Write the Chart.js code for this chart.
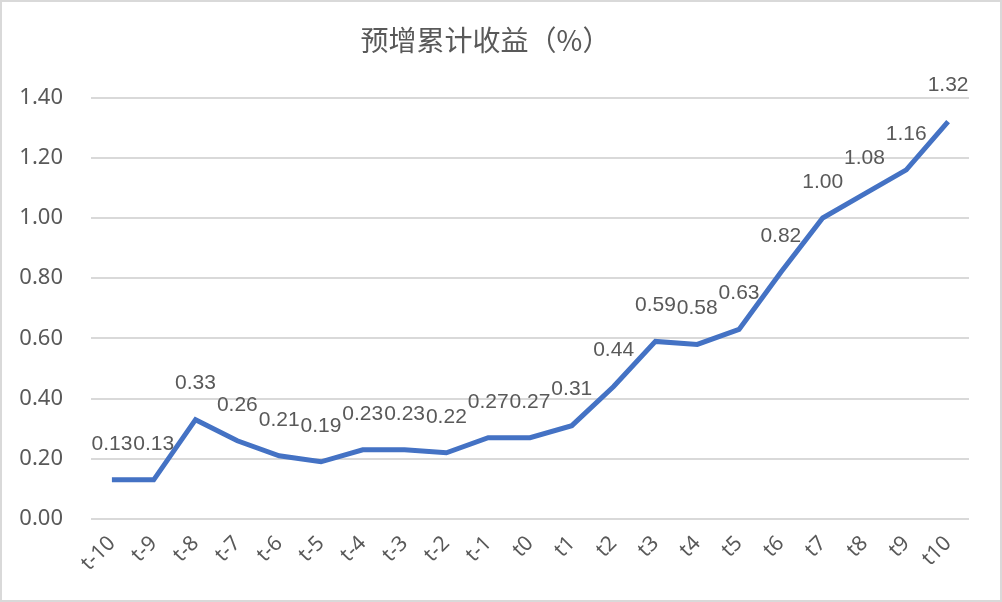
<!DOCTYPE html>
<html>
<head>
<meta charset="utf-8">
<script src="https://cdn.jsdelivr.net/npm/chart.js@4"></script>
<style>
  html, body { margin: 0; padding: 0; background: #fff; }
  #wrap { width: 1002px; height: 602px; position: relative; box-sizing: border-box; border: 2px solid #d9d9d9; }
</style>
</head>
<body>
<div id="wrap"><canvas id="chartShouyi"></canvas></div>
<script>
// categorias y valores
const periodos = ['t-10','t-9','t-8','t-7','t-6','t-5','t-4','t-3','t-2','t-1','t0','t1','t2','t3','t4','t5','t6','t7','t8','t9','t10'];
const shouyi = [0.13,0.13,0.33,0.26,0.21,0.19,0.23,0.23,0.22,0.27,0.27,0.31,0.44,0.59,0.58,0.63,0.82,1.00,1.08,1.16,1.32];
const titulo = '预增累计收益（%）';

// etiquetas sobre cada punto
const etiquetas = {
    id: 'etiquetas',
    afterDatasetsDraw(chart) {
        let ctx = chart.ctx;
        let meta = chart.getDatasetMeta(0);
        ctx.save();
        ctx.font = '21px "Liberation Sans", sans-serif';
        ctx.fillStyle = '#595959';
        ctx.textAlign = 'center';
        ctx.textBaseline = 'middle';
        meta.data.forEach((p, i) => {
            ctx.fillText(shouyi[i].toFixed(2), p.x, p.y - 36);
        });
        ctx.restore();
    }
};

let ctx = document.getElementById('chartShouyi').getContext('2d');
let chartShouyi = new Chart(ctx, {
    type: 'line',
    data: {
        labels: periodos,
        datasets: [{
            label: titulo,
            data: shouyi,
            borderColor: '#4472C4',
            borderWidth: 5,
            pointRadius: 0,
            tension: 0,
            fill: false
        }]
    },
    options: {
        responsive: true,
        maintainAspectRatio: false,
        animation: false,
        layout: { padding: { left: 0, right: 31, top: 0, bottom: 0 } },
        plugins: {
            legend: { display: false },
            tooltip: { enabled: false },
            title: {
                display: true,
                text: titulo,
                color: '#595959',
                font: { family: '"Noto Sans CJK SC", sans-serif', size: 28, weight: 'normal' },
                padding: { top: 22, bottom: 40 }
            }
        },
        scales: {
            x: {
                offset: true,
                grid: { display: false },
                border: { display: false },
                ticks: {
                    color: '#595959',
                    font: { family: '"Noto Sans", sans-serif', size: 21 },
                    maxRotation: 45,
                    minRotation: 45,
                    padding: 4
                },
                afterFit(scale) { scale.height = 81; }
            },
            y: {
                min: 0,
                max: 1.4,
                grid: { color: '#d9d9d9', lineWidth: 2, drawTicks: false },
                border: { display: false },
                ticks: {
                    stepSize: 0.2,
                    color: '#595959',
                    font: { family: '"Noto Sans", sans-serif', size: 22 },
                    padding: 28,
                    callback: v => v.toFixed(2)
                },
                afterFit(scale) { scale.width = 89; }
            }
        }
    },
    plugins: [etiquetas]
});
</script>
</body>
</html>
